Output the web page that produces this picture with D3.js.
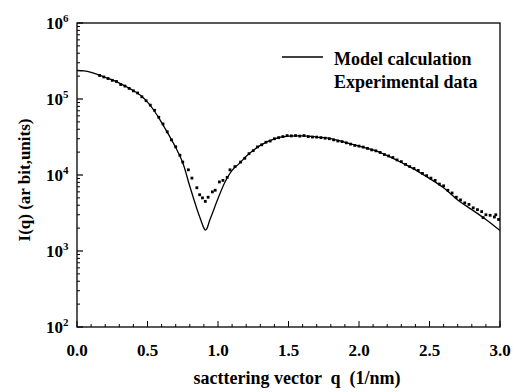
<!DOCTYPE html>
<html>
<head>
<meta charset="utf-8">
<script src="https://cdn.jsdelivr.net/npm/d3@7"></script>
<style>
body { margin: 0; background: #fff; }
</style>
</head>
<body>
<script>
// model curve (q in 1/nm, I in arb. units)
var modelQ = [0.00, 0.05, 0.10, 0.15, 0.20, 0.25, 0.30, 0.35, 0.40, 0.45, 0.50, 0.55, 0.60, 0.65, 0.70, 0.75,
              0.80, 0.85, 0.88, 0.90, 0.91, 0.92, 0.94, 0.97, 1.00, 1.05, 1.10, 1.15, 1.20, 1.30, 1.40, 1.50,
              1.60, 1.70, 1.80, 1.90, 2.00, 2.10, 2.20, 2.30, 2.40, 2.50, 2.60, 2.70, 2.80, 2.90, 3.00];
var modelI = [2.37e5, 2.34e5, 2.24e5, 2.09e5, 1.93e5, 1.78e5, 1.62e5, 1.45e5, 1.29e5, 1.12e5, 9.1e4, 6.9e4, 4.9e4, 3.4e4, 2.3e4, 1.45e4,
              7.1e3, 3.6e3, 2.5e3, 2.0e3, 1.88e3, 1.95e3, 2.5e3, 3.5e3, 4.9e3, 8.1e3, 1.15e4, 1.41e4, 1.76e4, 2.45e4, 2.99e4, 3.24e4,
              3.27e4, 3.16e4, 3.02e4, 2.69e4, 2.40e4, 2.14e4, 1.80e4, 1.46e4, 1.17e4, 9.0e3, 6.8e3, 4.7e3, 3.5e3, 2.6e3, 1.86e3];

// experimental points
var expQ = [0.16, 0.19, 0.22, 0.25, 0.28, 0.31, 0.34, 0.37, 0.40, 0.43, 0.46, 0.49, 0.52, 0.55, 0.58, 0.61, 0.64, 0.67, 0.70, 0.73,
            0.75, 0.79, 0.815, 0.85, 0.87, 0.89, 0.91, 0.93, 0.96, 0.98, 1.01, 1.035, 1.065, 1.085, 1.12, 1.16, 1.19, 1.22, 1.25, 1.28,
            1.31, 1.34, 1.37, 1.40, 1.43, 1.46, 1.49, 1.52, 1.55, 1.58, 1.61, 1.64, 1.67, 1.70, 1.73, 1.76, 1.79, 1.82, 1.85, 1.88,
            1.91, 1.94, 1.97, 2.00, 2.03, 2.06, 2.09, 2.12, 2.15, 2.18, 2.21, 2.24, 2.27, 2.30, 2.33, 2.36, 2.39, 2.42, 2.45, 2.48,
            2.51, 2.54, 2.57, 2.60, 2.63, 2.66, 2.69, 2.72, 2.75, 2.78, 2.81, 2.84, 2.87, 2.88, 2.90, 2.93, 2.96, 2.97, 2.99];
var expI = [2.04e5, 1.95e5, 1.86e5, 1.76e5, 1.70e5, 1.55e5, 1.48e5, 1.38e5, 1.28e5, 1.20e5, 1.07e5, 9.5e4, 8.3e4, 7.1e4, 5.75e4, 4.7e4, 3.7e4, 2.9e4, 2.35e4, 1.82e4,
            1.48e4, 1.17e4, 9.1e3, 6.8e3, 5.5e3, 5.0e3, 4.5e3, 5.1e3, 6.0e3, 6.3e3, 8.1e3, 8.5e3, 9.3e3, 1.17e4, 1.29e4, 1.48e4, 1.66e4, 1.91e4, 2.09e4, 2.34e4,
            2.5e4, 2.7e4, 2.8e4, 3.0e4, 3.1e4, 3.2e4, 3.3e4, 3.27e4, 3.3e4, 3.25e4, 3.3e4, 3.2e4, 3.16e4, 3.15e4, 3.1e4, 3.05e4, 3.0e4, 2.9e4, 2.8e4, 2.75e4,
            2.65e4, 2.55e4, 2.45e4, 2.4e4, 2.33e4, 2.24e4, 2.14e4, 2.08e4, 1.98e4, 1.86e4, 1.78e4, 1.70e4, 1.58e4, 1.50e4, 1.38e4, 1.29e4, 1.22e4, 1.15e4, 1.05e4, 9.8e3,
            9.1e3, 8.5e3, 7.6e3, 7.2e3, 6.3e3, 5.8e3, 5.1e3, 4.7e3, 4.3e3, 4.1e3, 3.7e3, 3.5e3, 3.3e3, 2.75e3, 3.0e3, 2.95e3, 2.8e3, 3.0e3, 2.6e3];

var xTicks = [0.0, 0.5, 1.0, 1.5, 2.0, 2.5, 3.0];
var yExp = [2, 3, 4, 5, 6];
var legendLabels = ["Model calculation", "Experimental data"];

var W = 515, H = 392;
var m = {left: 77, right: 500, top: 23, bottom: 327};
var FONT = "Liberation Serif, Tinos, Times New Roman, Times, DejaVu Serif, serif";

var svg = d3.select("body").append("svg").attr("width", W).attr("height", H);

function txt(sel, size) {
	return sel.style("font-family", FONT).style("font-weight", "bold")
		.style("font-size", size + "px").attr("fill", "#000");
}

var x = d3.scaleLinear().domain([0, 3]).range([m.left, m.right]);
var y = d3.scaleLog().domain([1e2, 1e6]).range([m.bottom, m.top]);

// frame
svg.append("rect")
	.attr("x", m.left).attr("y", m.top)
	.attr("width", m.right - m.left).attr("height", m.bottom - m.top)
	.attr("fill", "none").attr("stroke", "#000").attr("stroke-width", 1.3);

// x axis ticks (inward)
var xMinor = d3.range(0, 31).map(function(i){ return i / 10; });
svg.append("g").selectAll("line")
	.data(xMinor)
	.enter()
	.append("line")
	.attr("x1", function(d){ return x(d); })
	.attr("x2", function(d){ return x(d); })
	.attr("y1", m.bottom)
	.attr("y2", function(d, i){ return m.bottom - (i % 5 == 0 ? 6 : 3); })
	.attr("stroke", "#000").attr("stroke-width", 1);

svg.append("g").selectAll("text")
	.data(xTicks)
	.enter()
	.append("text")
	.attr("x", function(d){ return x(d); })
	.attr("y", 356)
	.attr("text-anchor", "middle")
	.call(txt, 17)
	.text(function(d){ return d3.format(".1f")(d); });

// y axis ticks (inward), decades + minors
var yMinor = [];
yExp.forEach(function(e){
	if (e < 6) for (var k = 2; k < 10; k++) yMinor.push(k * Math.pow(10, e));
});
svg.append("g").selectAll("line")
	.data(yMinor)
	.enter()
	.append("line")
	.attr("x1", m.left).attr("x2", m.left + 3)
	.attr("y1", function(d){ return y(d); })
	.attr("y2", function(d){ return y(d); })
	.attr("stroke", "#000").attr("stroke-width", 1);

svg.append("g").selectAll("line")
	.data(yExp)
	.enter()
	.append("line")
	.attr("x1", m.left).attr("x2", m.left + 6)
	.attr("y1", function(d){ return y(Math.pow(10, d)); })
	.attr("y2", function(d){ return y(Math.pow(10, d)); })
	.attr("stroke", "#000").attr("stroke-width", 1.2);

var yl = svg.append("g").selectAll("text")
	.data(yExp)
	.enter()
	.append("text")
	.attr("x", 46)
	.attr("y", function(d){ return y(Math.pow(10, d)) + 6; })
	.call(txt, 17);
yl.append("tspan").text("10");
yl.append("tspan")
	.attr("dy", -7)
	.style("font-size", "11px")
	.text(function(d){ return d; });

// axis titles
svg.append("text")
	.attr("x", 297).attr("y", 384)
	.attr("text-anchor", "middle")
	.call(txt, 18)
	.style("white-space", "pre")
	.text("sacttering vector  q  (1/nm)");

svg.append("text")
	.attr("transform", "translate(30,180) rotate(-90)")
	.attr("text-anchor", "middle")
	.call(txt, 17)
	.text("I(q) (ar bit,units)");

// model line
var model = modelQ.map(function(q, i){ return {q: q, v: modelI[i]}; });
var line = d3.line()
	.x(function(d){ return x(d.q); })
	.y(function(d){ return y(d.v); })
	.curve(d3.curveCatmullRom);

svg.append("path")
	.datum(model)
	.attr("d", line)
	.attr("fill", "none")
	.attr("stroke", "#000")
	.attr("stroke-width", 1.3);

// experimental points
var pts = expQ.map(function(q, i){ return {q: q, v: expI[i]}; });
svg.append("g").selectAll("rect")
	.data(pts)
	.enter()
	.append("rect")
	.attr("x", function(d){ return x(d.q) - 1.4; })
	.attr("y", function(d){ return y(d.v) - 1.4; })
	.attr("width", 2.8).attr("height", 2.8)
	.attr("fill", "#000");

// legend
svg.append("line")
	.attr("x1", 282).attr("x2", 323)
	.attr("y1", 57).attr("y2", 57)
	.attr("stroke", "#000").attr("stroke-width", 1.3);

svg.append("g").selectAll("text")
	.data(legendLabels)
	.enter()
	.append("text")
	.attr("x", 334)
	.attr("y", function(d, i){ return 65 + i * 23; })
	.call(txt, 18)
	.text(function(d){ return d; });
</script>
</body>
</html>
